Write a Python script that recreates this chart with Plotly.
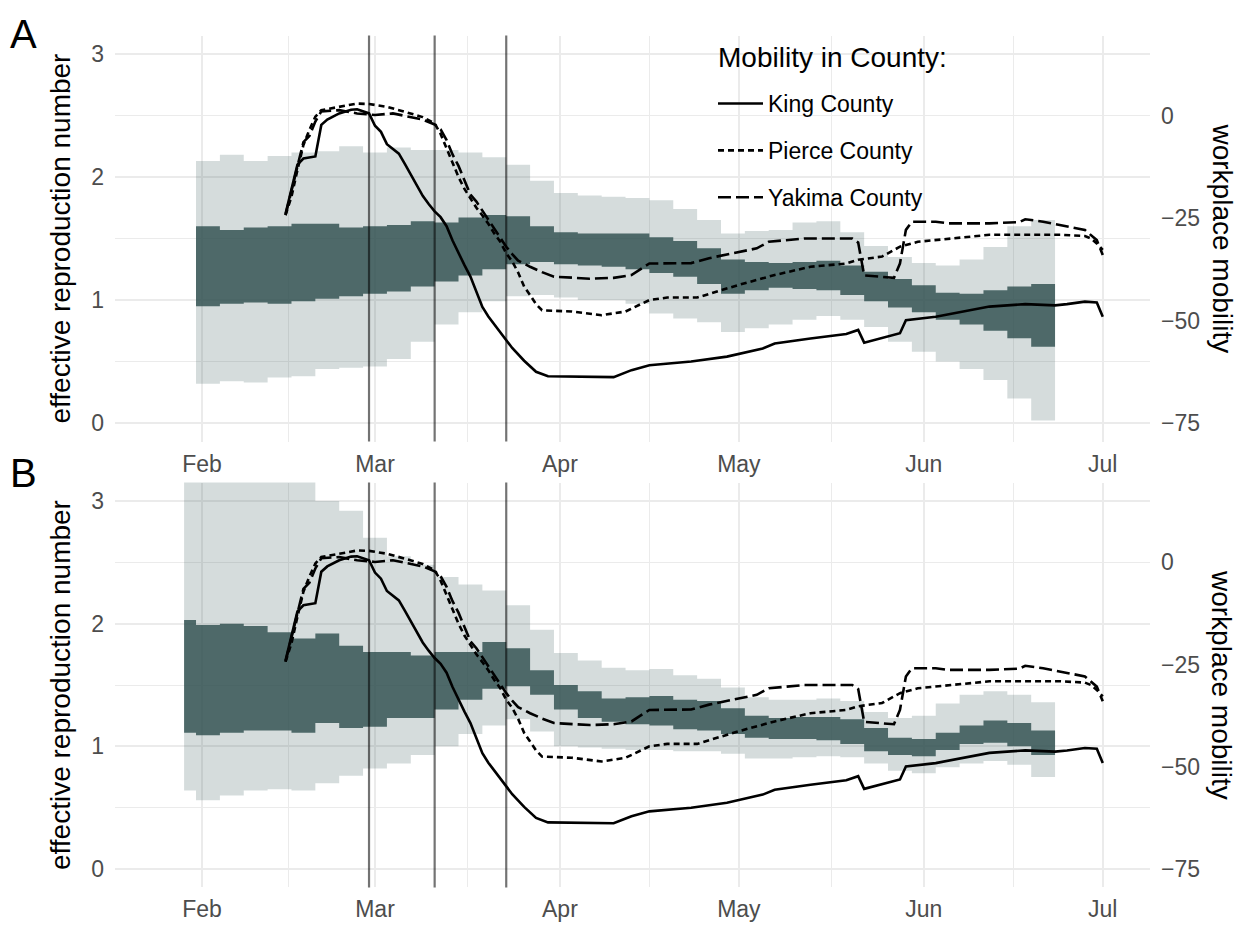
import plotly.graph_objects as go

W, H = 1243, 928
OX, OY = 8, 8  # page body margin of the browser

# 4-day steps of the Rt posterior bands (panel B has one extra leading step)
band_dates = ["2020-01-31", "2020-02-04", "2020-02-08", "2020-02-12", "2020-02-16", "2020-02-20",
              "2020-02-24", "2020-02-28", "2020-03-03", "2020-03-07", "2020-03-11", "2020-03-15",
              "2020-03-19", "2020-03-23", "2020-03-27", "2020-03-31", "2020-04-04", "2020-04-08",
              "2020-04-12", "2020-04-16", "2020-04-20", "2020-04-24", "2020-04-28", "2020-05-02",
              "2020-05-06", "2020-05-10", "2020-05-14", "2020-05-18", "2020-05-22", "2020-05-26",
              "2020-05-30", "2020-06-03", "2020-06-07", "2020-06-11", "2020-06-15", "2020-06-19"]
band_end = "2020-06-23"
band_dates_b = ["2020-01-29"] + band_dates

a_hi95 = [2.13, 2.18, 2.13, 2.17, 2.2, 2.21, 2.25, 2.2, 2.24, 2.22, 2.22, 2.2, 2.16, 2.1, 1.97, 1.87,
          1.85, 1.84, 1.83, 1.81, 1.74, 1.65, 1.54, 1.56, 1.57, 1.63, 1.64, 1.55, 1.44, 1.35, 1.30,
          1.28, 1.33, 1.43, 1.6, 1.65]
a_hi50 = [1.6, 1.57, 1.59, 1.6, 1.62, 1.62, 1.59, 1.6, 1.61, 1.64, 1.63, 1.67, 1.69, 1.68, 1.6, 1.55,
          1.54, 1.54, 1.54, 1.51, 1.48, 1.42, 1.33, 1.31, 1.30, 1.31, 1.32, 1.28, 1.23, 1.17, 1.12,
          1.06, 1.05, 1.08, 1.11, 1.13]
a_lo50 = [0.95, 0.97, 0.98, 0.97, 0.99, 1.01, 1.03, 1.05, 1.07, 1.11, 1.15, 1.2, 1.25, 1.29, 1.31, 1.29,
          1.28, 1.27, 1.25, 1.22, 1.19, 1.13, 1.05, 1.08, 1.1, 1.09, 1.08, 1.04, 0.99, 0.94, 0.9,
          0.84, 0.8, 0.75, 0.69, 0.62]
a_lo95 = [0.32, 0.34, 0.33, 0.37, 0.38, 0.44, 0.45, 0.46, 0.52, 0.66, 0.8, 0.9, 0.99, 1.03, 1.04, 1.02,
          1.0, 1.0, 0.97, 0.89, 0.85, 0.82, 0.74, 0.77, 0.8, 0.84, 0.87, 0.84, 0.78, 0.66, 0.58,
          0.5, 0.44, 0.35, 0.2, 0.02]

b_hi95 = [3.4, 3.4, 3.4, 3.4, 3.4, 3.2, 3.0, 2.92, 2.7, 2.55, 2.48, 2.38, 2.32, 2.27, 2.15, 1.95, 1.76,
          1.7, 1.64, 1.62, 1.63, 1.58, 1.55, 1.48, 1.4, 1.38, 1.38, 1.39, 1.37, 1.28, 1.23, 1.25,
          1.35, 1.42, 1.45, 1.42, 1.36]
b_hi50 = [2.03, 1.99, 2.0, 1.98, 1.93, 1.88, 1.92, 1.82, 1.77, 1.77, 1.74, 1.77, 1.77, 1.85, 1.8, 1.62,
          1.5, 1.45, 1.39, 1.4, 1.41, 1.38, 1.37, 1.31, 1.25, 1.23, 1.24, 1.24, 1.22, 1.15, 1.07,
          1.06, 1.11, 1.17, 1.21, 1.19, 1.13]
b_lo50 = [1.11, 1.09, 1.11, 1.13, 1.13, 1.11, 1.19, 1.15, 1.16, 1.23, 1.23, 1.3, 1.38, 1.47, 1.49, 1.42,
          1.3, 1.23, 1.2, 1.18, 1.17, 1.14, 1.13, 1.1, 1.07, 1.06, 1.06, 1.05, 1.02, 0.96, 0.93,
          0.92, 0.97, 1.02, 1.03, 1.0, 0.93]
b_lo95 = [0.64, 0.56, 0.6, 0.64, 0.65, 0.64, 0.7, 0.76, 0.82, 0.86, 0.93, 1.0, 1.1, 1.17, 1.22, 1.12,
          1.0, 0.99, 0.98, 0.97, 0.97, 0.96, 0.96, 0.94, 0.9, 0.9, 0.91, 0.92, 0.91, 0.86, 0.8,
          0.78, 0.83, 0.86, 0.88, 0.85, 0.75]

# workplace mobility (% change from baseline)
king_dates = ["2020-02-15", "2020-02-16", "2020-02-17", "2020-02-18", "2020-02-19", "2020-02-20",
              "2020-02-21", "2020-02-22", "2020-02-24", "2020-02-26", "2020-02-27", "2020-02-29",
              "2020-03-01", "2020-03-02", "2020-03-03", "2020-03-04", "2020-03-05", "2020-03-06",
              "2020-03-07", "2020-03-08", "2020-03-09", "2020-03-10", "2020-03-11", "2020-03-12",
              "2020-03-13", "2020-03-14", "2020-03-15", "2020-03-16", "2020-03-17", "2020-03-18",
              "2020-03-19", "2020-03-20", "2020-03-21", "2020-03-22", "2020-03-24", "2020-03-26",
              "2020-03-28", "2020-03-30", "2020-04-06", "2020-04-10", "2020-04-13", "2020-04-16",
              "2020-04-23", "2020-04-29", "2020-05-05", "2020-05-07", "2020-05-13", "2020-05-19",
              "2020-05-21", "2020-05-22", "2020-05-28", "2020-05-29", "2020-06-03", "2020-06-09",
              "2020-06-12", "2020-06-18", "2020-06-23", "2020-06-25", "2020-06-28", "2020-06-30",
              "2020-07-01"]
king_mob = [-24, -18, -12, -10.5, -10.3, -10, -2.3, -1, 0.5, 1.4, 1.5, 0.5,
            -2.5, -4, -7, -8.2, -9.3, -11.8, -14.5, -17, -19.6, -21.6, -23.4, -24.8,
            -27, -30.5, -33.7, -36.5, -39.3, -43, -46.7, -49, -51, -53, -56.7, -59.8,
            -62.5, -63.6, -63.7, -63.8, -62.1, -60.9, -60, -58.8, -56.8, -55.6, -54.4, -53.3,
            -52.3, -55.4, -53.1, -49.9, -49.1, -47.4, -46.6, -46.0, -46.3, -46, -45.4, -45.6,
            -49.1]

pierce_dates = ["2020-02-15", "2020-02-16", "2020-02-17", "2020-02-18", "2020-02-19", "2020-02-20",
                "2020-02-21", "2020-02-24", "2020-02-27", "2020-02-29", "2020-03-03", "2020-03-06",
                "2020-03-09", "2020-03-11", "2020-03-12", "2020-03-13", "2020-03-14", "2020-03-15",
                "2020-03-16", "2020-03-17", "2020-03-18", "2020-03-19", "2020-03-20", "2020-03-21",
                "2020-03-22", "2020-03-23", "2020-03-24", "2020-03-25", "2020-03-26", "2020-03-27",
                "2020-03-28", "2020-03-29", "2020-04-03", "2020-04-08", "2020-04-12", "2020-04-16",
                "2020-04-19", "2020-04-24", "2020-04-28", "2020-05-01", "2020-05-07", "2020-05-13",
                "2020-05-19", "2020-05-21", "2020-05-25", "2020-05-28", "2020-05-31", "2020-06-06",
                "2020-06-12", "2020-06-24", "2020-06-28", "2020-06-29", "2020-06-30", "2020-07-01"]
pierce_mob = [-24.3, -19.8, -13.3, -7.2, -3.5, -0.3, 1.3, 2.1, 2.9, 2.8, 2.1, 0.9,
              -0.4, -1.9, -4.5, -8, -11.5, -15, -17.9, -20.2, -22.5, -24.4, -26.4, -28.8,
              -30.8, -33.6, -35.6, -38.3, -41.7, -43.8, -46, -47.5, -47.8, -48.7, -47.8, -45,
              -44.4, -44.4, -42.6, -41.3, -38.9, -36.9, -36.1, -35.2, -34.4, -32, -30.8, -30,
              -29.1, -29.1, -29.4, -30, -31.2, -32.8]

yakima_dates = ["2020-02-15", "2020-02-16", "2020-02-17", "2020-02-18", "2020-02-19", "2020-02-20",
                "2020-02-21", "2020-02-24", "2020-02-27", "2020-03-01", "2020-03-04", "2020-03-07",
                "2020-03-09", "2020-03-11", "2020-03-12", "2020-03-13", "2020-03-14", "2020-03-15",
                "2020-03-16", "2020-03-17", "2020-03-18", "2020-03-19", "2020-03-20", "2020-03-21",
                "2020-03-22", "2020-03-23", "2020-03-24", "2020-03-25", "2020-03-27", "2020-03-29",
                "2020-03-31", "2020-04-06", "2020-04-10", "2020-04-13", "2020-04-16", "2020-04-23",
                "2020-04-26", "2020-05-01", "2020-05-04", "2020-05-06", "2020-05-12", "2020-05-20",
                "2020-05-21", "2020-05-22", "2020-05-27", "2020-05-28", "2020-05-29", "2020-05-30",
                "2020-06-03", "2020-06-05", "2020-06-12", "2020-06-17", "2020-06-18", "2020-06-21",
                "2020-06-24", "2020-06-28", "2020-06-30", "2020-07-01"]
yakima_mob = [-24.3, -18.5, -12, -6.5, -5, -1.5, 1, 1.3, 0.5, 0.1, 0.5, -0.5,
              -1, -2.2, -3.4, -6, -9.5, -12.3, -15.8, -19.3, -21, -23.2, -25.6, -27.9,
              -30.1, -32, -33.8, -35.4, -36.9, -38.2, -39.3, -39.8, -39.6, -38.9, -36.1, -36.0,
              -34.8, -33.2, -32.4, -30.8, -30, -30, -31, -39, -39.6, -36.1, -27.9, -25.9,
              -25.9, -26.3, -26.3, -26, -25.3, -25.9, -26.7, -27.9, -30.4, -34]

event_dates = ["2020-02-29", "2020-03-11", "2020-03-23"]
month_ticks = ["2020-02-01", "2020-03-01", "2020-04-01", "2020-05-01", "2020-06-01", "2020-07-01"]
month_labels = ["Feb", "Mar", "Apr", "May", "Jun", "Jul"]
minor_ticks = ["2020-02-15 12:00", "2020-03-16 12:00", "2020-04-16", "2020-05-16 12:00", "2020-06-16"]
rt_ticks = [0, 1, 2, 3]
mob_ticks = [-75, -50, -25, 0]
mob_labels = ["\u221275", "\u221250", "\u221225", "0"]

FONT = "Liberation Sans"
LIGHT = "rgba(47,79,79,0.2)"
DARK = "rgba(47,79,79,0.82)"
GRID = "#ebebeb"


def px(x, y):
    # reference-image pixel -> paper coordinates
    return (x - OX) / W, 1 - (y - OY) / H


def step(dates, vals):
    return dates + [band_end], vals + [vals[-1]]


fig = go.Figure()

panels = [
    dict(x="x", y="y", y2="y2", dates=band_dates, bands=(a_lo95, a_hi95, a_lo50, a_hi50), legend=True),
    dict(x="x2", y="y3", y2="y4", dates=band_dates_b, bands=(b_lo95, b_hi95, b_lo50, b_hi50), legend=False),
]

for p in panels:
    lo95, hi95, lo50, hi50 = p["bands"]
    for lo, hi, col in [(lo95, hi95, LIGHT), (lo50, hi50, DARK)]:
        xs, ys = step(p["dates"], lo)
        fig.add_trace(go.Scatter(x=xs, y=ys, xaxis=p["x"], yaxis=p["y"], mode="lines",
                                 line=dict(width=0, shape="hv"), showlegend=False, hoverinfo="skip"))
        xs, ys = step(p["dates"], hi)
        fig.add_trace(go.Scatter(x=xs, y=ys, xaxis=p["x"], yaxis=p["y"], mode="lines",
                                 line=dict(width=0, shape="hv"), fill="tonexty", fillcolor=col,
                                 showlegend=False, hoverinfo="skip"))

    for name, d, m, dash in [("King County", king_dates, king_mob, "solid"),
                             ("Pierce County", pierce_dates, pierce_mob, "6px,4px"),
                             ("Yakima County", yakima_dates, yakima_mob, "13px,5px")]:
        fig.add_trace(go.Scatter(x=d, y=m, xaxis=p["x"], yaxis=p["y2"], mode="lines", name=name,
                                 legendgroup=name, showlegend=p["legend"],
                                 line=dict(color="black", width=2.6, dash=dash)))

    for ev in event_dates:
        fig.add_shape(type="line", xref=p["x"], yref=p["y"] + " domain", x0=ev, x1=ev, y0=0, y1=1,
                      line=dict(color="rgba(0,0,0,0.55)", width=2.2), layer="above")

x0, _ = px(115, 0)
x1, _ = px(1150, 0)
_, ya_top = px(0, 35.5)
_, ya_bot = px(0, 441.5)
_, yb_top = px(0, 482.6)
_, yb_bot = px(0, 887.4)

tickfont = dict(family=FONT, size=23, color="#4d4d4d")

xcommon = dict(range=["2020-01-17 10:00", "2020-07-08 22:00"], tickvals=month_ticks, ticktext=month_labels,
               showgrid=True, gridcolor=GRID, gridwidth=2.4, zeroline=False, showline=False,
               ticks="", tickfont=tickfont, ticklabelstandoff=6, automargin=False,
               minor=dict(tickvals=minor_ticks, showgrid=True, gridcolor=GRID, gridwidth=1.4))
ycommon = dict(range=[-0.15, 3.15], tickvals=rt_ticks, showgrid=True, gridcolor=GRID, gridwidth=2.4,
               zeroline=False, showline=False, ticks="", tickfont=tickfont, ticklabelstandoff=10,
               automargin=False,
               minor=dict(tickvals=[0.5, 1.5, 2.5], showgrid=True, gridcolor=GRID, gridwidth=1.4))
y2common = dict(range=[-79.5, 19.5], tickvals=mob_ticks, ticktext=mob_labels, side="right",
                showgrid=False, zeroline=False, showline=False, ticks="", tickfont=tickfont,
                ticklabelstandoff=10, automargin=False)

lgx, lgy = px(713, 82)

fig.update_layout(
    width=W, height=H,
    margin=dict(l=0, r=0, t=0, b=0),
    paper_bgcolor="white", plot_bgcolor="white",
    font=dict(family=FONT, color="black"),
    xaxis=dict(domain=[x0, x1], anchor="y", **xcommon),
    yaxis=dict(domain=[ya_bot, ya_top], anchor="x", **ycommon),
    yaxis2=dict(overlaying="y", anchor="x", **y2common),
    xaxis2=dict(domain=[x0, x1], anchor="y3", **xcommon),
    yaxis3=dict(domain=[yb_bot, yb_top], anchor="x2", **ycommon),
    yaxis4=dict(overlaying="y3", anchor="x2", **y2common),
    legend=dict(x=lgx, y=lgy, xanchor="left", yanchor="top", bgcolor="rgba(0,0,0,0)",
                font=dict(size=23, family=FONT), tracegroupgap=14, itemwidth=45),
    showlegend=True,
)

tx, ty = px(716, 57)
fig.add_annotation(text="Mobility in County:", x=tx, y=ty, xref="paper", yref="paper", showarrow=False,
                   xanchor="left", yanchor="middle", font=dict(size=28, family=FONT, color="black"))

# axis titles and panel letters
for top, bot, letter, ly in [(35.5, 441.5, "A", 34), (482.6, 887.4, "B", 473)]:
    cy = (top + bot) / 2
    ax, ay = px(60, cy)
    fig.add_annotation(text="effective reproduction number", x=ax, y=ay, xref="paper", yref="paper",
                       showarrow=False, textangle=-90, xanchor="center", yanchor="middle",
                       font=dict(size=28, family=FONT, color="black"))
    ax, ay = px(1222, cy)
    fig.add_annotation(text="workplace mobility", x=ax, y=ay, xref="paper", yref="paper",
                       showarrow=False, textangle=90, xanchor="center", yanchor="middle",
                       font=dict(size=28, family=FONT, color="black"))
    ax, ay = px(24, ly)
    fig.add_annotation(text=letter, x=ax, y=ay, xref="paper", yref="paper", showarrow=False,
                       xanchor="center", yanchor="middle",
                       font=dict(size=40, family=FONT, color="black"))

fig.write_html("out.html")
